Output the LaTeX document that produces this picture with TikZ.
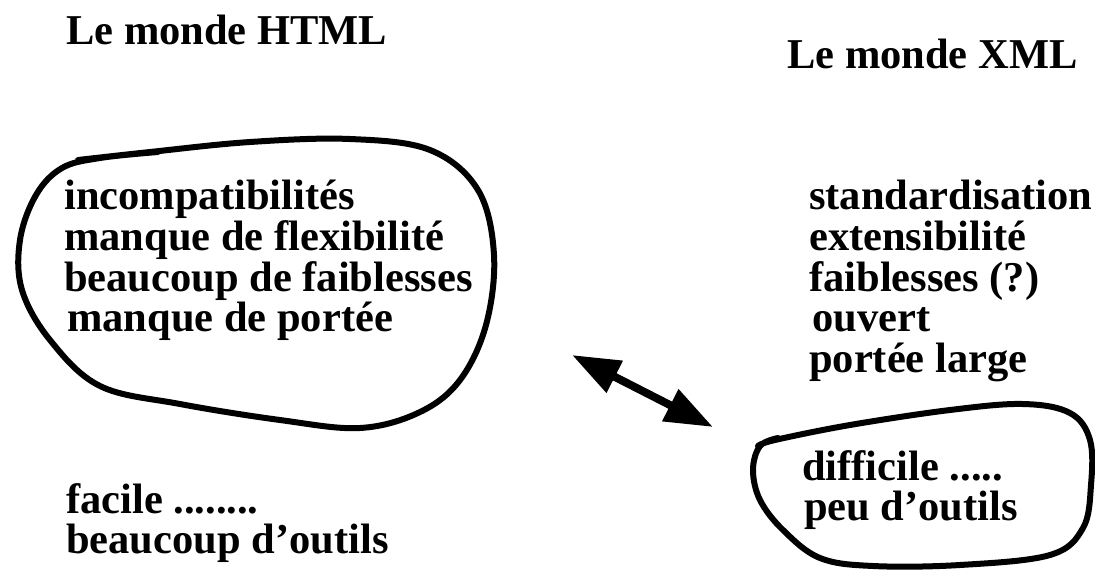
\documentclass[tikz,border=0pt]{standalone}
\usepackage{fontspec}
\setmainfont{Liberation Serif}
\usetikzlibrary{arrows.meta}

\tikzset{
  txt/.style={anchor=base west,inner sep=0pt,font=\fontsize{42.5}{42}\selectfont\bfseries},
  blob/.style={line width=6pt,line join=round,line cap=round},
}

\begin{document}
\begin{tikzpicture}[x=1pt,y=-1pt]
  \useasboundingbox (0,0) rectangle (1095,571);

  % titres
  \node[txt] (html) at (66,44) {Le monde HTML};
  \node[txt] (xml) at (787,68) {Le monde XML};

  % cote HTML
  \node[txt] (h1) at (64,209) {incompatibilités};
  \node[txt] (h2) at (64,250) {manque de flexibilité};
  \node[txt] (h3) at (64,291) {beaucoup de faiblesses};
  \node[txt] (h4) at (67,331) {manque de portée};
  \node[txt] (h5) at (66,513) {facile ........};
  \node[txt] (h6) at (66,553) {beaucoup d'outils};

  % cote XML
  \node[txt] (x1) at (809,209) {standardisation};
  \node[txt] (x2) at (809,250) {extensibilité};
  \node[txt] (x3) at (809,291) {faiblesses (?)};
  \node[txt] (x4) at (812,331) {ouvert};
  \node[txt] (x5) at (809,372) {portée large};
  \node[txt] (x6) at (802,480) {difficile .....};
  \node[txt] (x7) at (804,520) {peu d'outils};

  % les deux bulles
  \draw[blob] plot[smooth,tension=0.6] coordinates {
    (78,160) (150,152) (250,142) (350,139) (430,150) (478,190) (494,255)
    (486,325) (460,380) (420,412) (360,428) (280,420) (180,404) (100,386)
    (50,340) (22,290) (20,240) (36,195) (62,168) (100,158) (158,152)};
  \draw[blob] plot[smooth,tension=0.6] coordinates {
    (758,446) (775,440) (850,425) (950,410) (1023,404) (1070,413) (1090,440)
    (1091,485) (1083,528) (1050,555) (960,565) (873,566) (820,558) (783,530)
    (760,500) (753,470) (760,446) (778,438)};

  % fleche entre les deux mondes
  \coordinate (a) at (572,355);
  \coordinate (b) at (713,427);
  \draw[line width=8pt,{Triangle[length=48pt,width=34pt]}-{Triangle[length=48pt,width=34pt]}] (a) -- (b);
\end{tikzpicture}
\end{document}
